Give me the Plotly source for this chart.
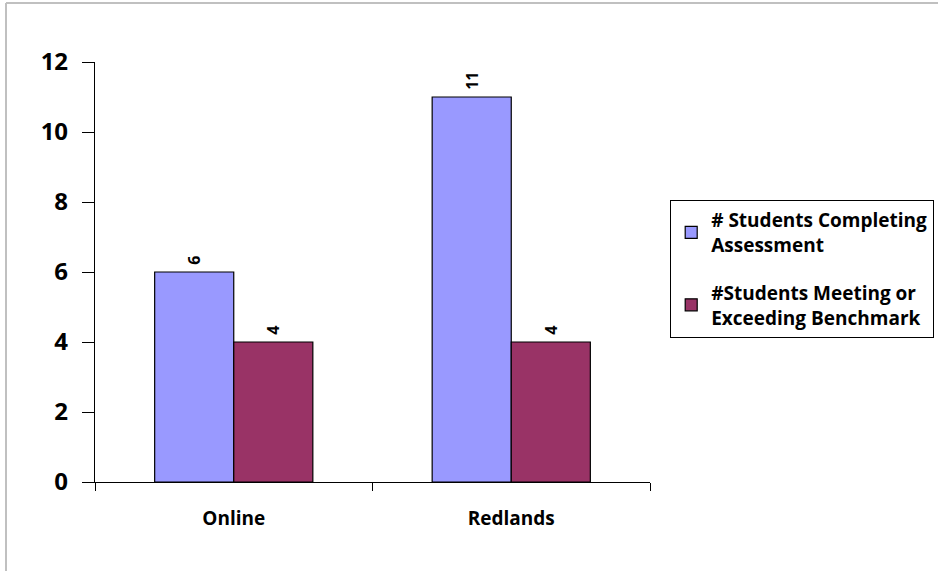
import plotly.graph_objects as go

categories = ["Online", "Redlands"]
completing = [6, 11]
meeting = [4, 4]
series_names = ["# Students Completing<br>Assessment", "#Students Meeting or<br>Exceeding Benchmark"]

W, H = 938, 571
L, R, T, B = 95, 288, 62, 89
pw, ph = W - L - R, H - T - B

def px(x):
    return (x - L) / pw

def py(y):
    return (H - B - y) / ph

font = "'Open Sans', Lato, sans-serif"

fig = go.Figure()
for i, (name, vals, col) in enumerate([(series_names[0], completing, "#9999FF"),
                                       (series_names[1], meeting, "#993366")]):
    fig.add_trace(go.Bar(
        x=categories, y=vals, name=name, legendgroup=f"g{i}",
        marker=dict(color=col, line=dict(color="black", width=1.2)),
        text=["\u00a0" + str(v) for v in vals], textposition="outside", textangle=-90,
        textfont=dict(family=font, size=16, color="black", weight="bold"),
        cliponaxis=False,
    ))

fig.update_layout(
    width=W, height=H,
    margin=dict(l=L, r=R, t=T, b=B, autoexpand=False),
    paper_bgcolor="white", plot_bgcolor="white",
    barmode="group", bargap=0.43, bargroupgap=0,
    font=dict(family=font, color="black"),
    legend=dict(
        x=px(670), y=py(200), xanchor="left", yanchor="top",
        bordercolor="black", borderwidth=1.2,
        font=dict(family=font, size=19, color="black", weight="bold"),
        tracegroupgap=20, itemwidth=30,
    ),
    xaxis=dict(
        showline=True, linecolor="black", linewidth=1.2,
        ticks="outside", tickson="boundaries", ticklen=8, tickcolor="black",
        tickfont=dict(family=font, size=19, weight="bold"),
        ticklabelstandoff=19, showgrid=False,
    ),
    yaxis=dict(
        range=[0, 12], dtick=2, showline=True, linecolor="black", linewidth=1.2,
        ticks="outside", ticklen=12, tickcolor="black",
        tickfont=dict(family=font, size=24, weight="bold"),
        ticklabelstandoff=9, showgrid=False, zeroline=False,
    ),
    shapes=[
        dict(type="line", xref="paper", yref="paper", x0=px(6), x1=px(940), y0=py(3), y1=py(3),
             line=dict(color="#c0c0c0", width=2)),
        dict(type="line", xref="paper", yref="paper", x0=px(6), x1=px(6), y0=py(3), y1=py(575),
             line=dict(color="#c0c0c0", width=2)),
    ],
)

fig.write_html("out.html", config={"displayModeBar": False},
               post_script="document.body.style.margin='0';")
